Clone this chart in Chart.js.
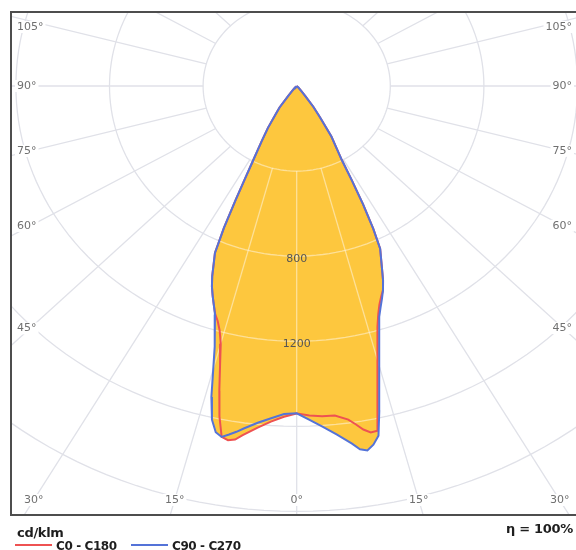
<!DOCTYPE html>
<html><head><meta charset="utf-8">
<script src="https://cdn.jsdelivr.net/npm/chart.js@4.4.0/dist/chart.umd.min.js"></script>
<style>
html,body{margin:0;padding:0;background:#fff;overflow:hidden;width:576px;height:550px;}
#wrap{position:relative;width:576px;height:550px;overflow:hidden;}
canvas{position:absolute;left:0;top:0;}
.t{position:absolute;font-family:"DejaVu Sans",sans-serif;font-weight:bold;color:#1e1e1e;line-height:1;white-space:nowrap;}
.ln{position:absolute;height:2px;width:37px;}
</style></head><body>
<div id="wrap">
<canvas id="c" width="600" height="550"></canvas>
<div class="t" id="unit" style="left:17px;top:526px;font-size:13px;line-height:13px;letter-spacing:-0.3px;"></div>
<div class="t" id="eta" style="left:506px;top:522px;font-size:13px;line-height:13px;letter-spacing:-0.3px;"></div>
<div id="legend"></div>
</div>
<script>
// ---- data (cd/klm) ----
const angles = [0,2,4,6,8,9,10,11,12,13,14,15,16,17,18,19,20,21,22,23,24,25,26,27,28,29,30,32,34,36,38,40,45,50,60,90];
// C0 - C180 plane (red): C180 = left half, C0 = right half
const c180 = [1540,1556,1582,1616,1658,1683,1691,1681,1588,1470,1354,1254,1195,1155,1127,1088,1050,1011,964,908,859,736,594,477,398,341,298,232,162,125,60,30,10,3,0,0];
const c0   = [1539,1550,1556,1558,1584,1610,1640,1659,1657,1532,1425,1333,1253,1182,1128,1086,1055,1029,985,933,886,844,746,625,500,398,349,280,179,122,60,30,10,3,0,0];
// C90 - C270 plane (blue): C270 = left half, C90 = right half
const c270 = [1539,1543,1566,1592,1626,1646,1664,1681,1664,1610,1507,1378,1275,1195,1130,1088,1050,1011,964,908,859,736,594,477,398,341,298,232,162,125,60,30,10,3,0,0];
const c90  = [1539,1571,1606,1648,1698,1729,1740,1718,1681,1569,1459,1364,1279,1204,1141,1101,1065,1029,985,933,886,844,746,625,500,398,349,280,179,122,60,30,10,3,0,0];
const seriesNames = ['C0 - C180', 'C90 - C270'];
const seriesColors = ['#ee5252', '#5473d8'];
const ringValues = [400,800,1200,1600,2000,2400,2800];
const ringLabels = [800,1200];
const angleTicks = [0,15,30,45,60,75,90,105];
const unitLabel = 'cd/klm';
const etaLabel = 'η = 100%';

// ---- layout constants (pixels) ----
const CX = 296.7, CY = 86, SX = 0.234, SY = 0.2127;
const AREA = {left: 11, top: 12, right: 590, bottom: 515};
const xMin = (AREA.left - CX) / SX, xMax = (AREA.right - CX) / SX;
const yMax = (CY - AREA.top) / SY, yMin = -(AREA.bottom - CY) / SY;

function curve(left, right) {
  const pts = [];
  for (let i = angles.length - 1; i >= 0; i--) {
    const a = angles[i] * Math.PI / 180;
    pts.push({x: -left[i] * Math.sin(a), y: -left[i] * Math.cos(a)});
  }
  for (let i = 0; i < angles.length; i++) {
    const a = angles[i] * Math.PI / 180;
    pts.push({x: right[i] * Math.sin(a), y: -right[i] * Math.cos(a)});
  }
  return pts;
}
const curveC0 = curve(c180, c0);
const curveC90 = curve(c270, c90);

function drawGrid(chart, color, width) {
  const {ctx, chartArea: ca} = chart;
  const xs = chart.scales.x, ys = chart.scales.y;
  const P = (X, Y) => [xs.getPixelForValue(X), ys.getPixelForValue(Y)];
  ctx.save();
  ctx.beginPath(); ctx.rect(ca.left, ca.top, ca.right - ca.left, ca.bottom - ca.top); ctx.clip();
  ctx.strokeStyle = color; ctx.lineWidth = width;
  for (const r of ringValues) {
    ctx.beginPath();
    for (let d = 0; d <= 360; d += 2) {
      const a = d * Math.PI / 180;
      const [u, v] = P(r * Math.sin(a), -r * Math.cos(a));
      if (d === 0) ctx.moveTo(u, v); else ctx.lineTo(u, v);
    }
    ctx.closePath(); ctx.stroke();
  }
  for (let d = 0; d < 360; d += 15) {
    const a = d * Math.PI / 180;
    const [u0, v0] = P(ringValues[0] * Math.sin(a), -ringValues[0] * Math.cos(a));
    const [u1, v1] = P(4000 * Math.sin(a), -4000 * Math.cos(a));
    ctx.beginPath(); ctx.moveTo(u0, v0); ctx.lineTo(u1, v1); ctx.stroke();
  }
  ctx.restore();
}

function drawLabels(chart) {
  const ctx = chart.ctx;
  const xs = chart.scales.x, ys = chart.scales.y;
  const cx = xs.getPixelForValue(0), cy = ys.getPixelForValue(0);
  const ux = xs.getPixelForValue(1) - cx, uy = cy - ys.getPixelForValue(1);
  ctx.save();
  ctx.font = '11px "DejaVu Sans"';
  ctx.textBaseline = 'middle';
  const L_IN = 30, R_IN = 563, B_IN = 500, T_IN = 27, L_TXT = 17, R_TXT = 572;
  for (const d of angleTicks) {
    const a = d * Math.PI / 180;
    const dxp = Math.sin(a) * ux, dyp = Math.cos(a) * uy;
    for (const side of [-1, 1]) {
      if (d === 0 && side === 1) continue;
      const txt = d + '°';
      const w = ctx.measureText(txt).width;
      const tb = dyp > 1e-9 ? (B_IN - cy) / dyp : Infinity;
      const ts = dxp > 1e-9 ? (side < 0 ? (cx - L_IN) : (R_IN - cx)) / dxp : Infinity;
      let ty, x0;
      if (tb < ts) { const tx = cx + side * dxp * tb; ty = B_IN; x0 = tx - w / 2; }
      else { ty = Math.max(cy + dyp * ts, T_IN); x0 = side < 0 ? L_TXT : R_TXT - w; }
      ctx.fillStyle = '#ffffff';
      ctx.fillRect(x0 - 2, ty - 6, w + 4, 12);
      ctx.fillStyle = '#707070';
      ctx.textAlign = 'left';
      ctx.fillText(txt, x0, ty);
    }
  }
  ctx.fillStyle = '#555555';
  ctx.textAlign = 'center';
  for (const r of ringLabels) {
    ctx.fillText(String(r), cx, ys.getPixelForValue(-r) + 3);
  }
  ctx.restore();
}

const polarPlugin = {
  id: 'polarPlugin',
  afterDatasetDraw(chart, args) {
    if (args.index !== 0) return;
    const ctx = chart.ctx;
    ctx.save();
    ctx.globalCompositeOperation = 'source-atop';
    drawGrid(chart, 'rgba(255,245,225,0.55)', 1.3);
    ctx.globalCompositeOperation = 'destination-over';
    drawGrid(chart, '#e0e1e8', 1.3);
    ctx.restore();
  },
  afterDraw(chart) {
    const ctx = chart.ctx, ca = chart.chartArea;
    drawLabels(chart);
    ctx.save();
    ctx.strokeStyle = '#4e4e4e'; ctx.lineWidth = 2;
    ctx.strokeRect(ca.left, ca.top, ca.right - ca.left, ca.bottom - ca.top);
    ctx.restore();
  }
};

const FILL = '#fdc73e';
new Chart(document.getElementById('c'), {
  type: 'scatter',
  data: {
    datasets: [
      {label: seriesNames[0] + ' fill', data: curveC0, showLine: true, fill: 'shape', backgroundColor: FILL, borderWidth: 0, pointRadius: 0, order: 10},
      {label: seriesNames[1] + ' fill', data: curveC90, showLine: true, fill: 'shape', backgroundColor: FILL, borderWidth: 0, pointRadius: 0, order: 10},
      {label: seriesNames[0], data: curveC0, showLine: true, fill: false, borderColor: seriesColors[0], borderWidth: 2, pointRadius: 0, order: 2},
      {label: seriesNames[1], data: curveC90, showLine: true, fill: false, borderColor: seriesColors[1], borderWidth: 2, pointRadius: 0, order: 1}
    ]
  },
  options: {
    responsive: false,
    maintainAspectRatio: false,
    animation: false,
    layout: {padding: {left: AREA.left, top: AREA.top, right: 600 - AREA.right, bottom: 550 - AREA.bottom}},
    plugins: {legend: {display: false}, tooltip: {enabled: false}},
    elements: {line: {tension: 0}},
    scales: {
      x: {type: 'linear', min: xMin, max: xMax, display: false},
      y: {type: 'linear', min: yMin, max: yMax, display: false}
    }
  },
  plugins: [polarPlugin]
});

document.getElementById('unit').textContent = unitLabel;
document.getElementById('eta').textContent = etaLabel;
const legend = document.getElementById('legend');
const legendX = [15, 131];
seriesNames.forEach((n, i) => {
  const ln = document.createElement('div');
  ln.className = 'ln';
  ln.style.left = legendX[i] + 'px'; ln.style.top = '544px'; ln.style.background = seriesColors[i];
  legend.appendChild(ln);
  const t = document.createElement('div');
  t.className = 't';
  t.style.left = (legendX[i] + 41) + 'px'; t.style.top = '540px';
  t.style.fontSize = '12px'; t.style.lineHeight = '12px'; t.style.letterSpacing = '-0.4px';
  t.textContent = n;
  legend.appendChild(t);
});
</script>
</body></html>
